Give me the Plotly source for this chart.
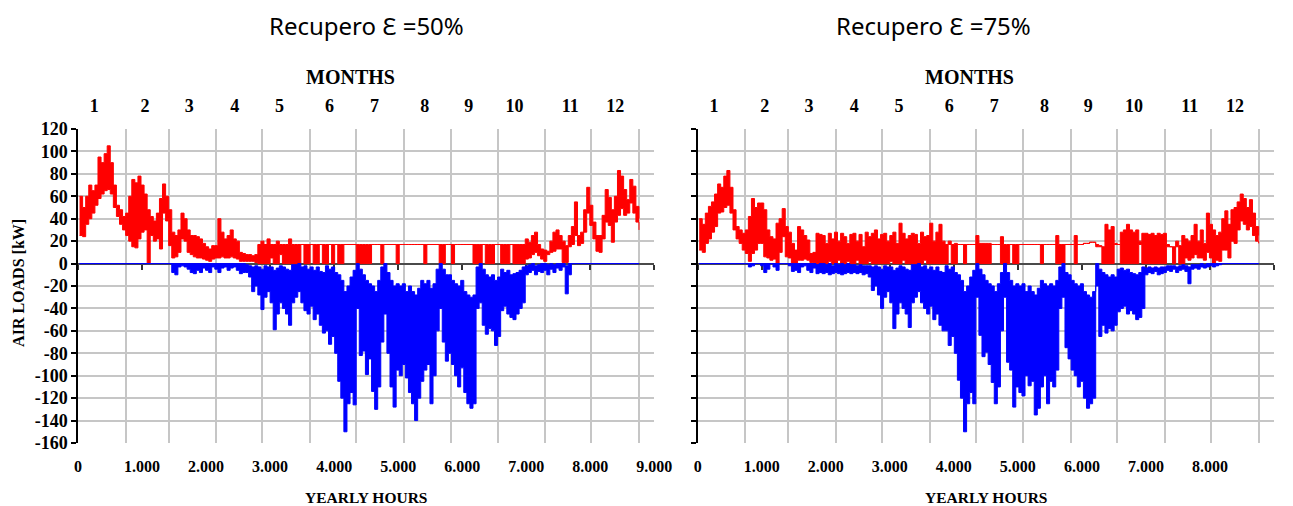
import numpy as np
import plotly.graph_objects as go

# ---------------- data ----------------
CHUNK_H = 48  # each value = envelope of one 48-hour block
MONTH_HOURS = [744, 672, 744, 720, 744, 720, 744, 744, 720, 744, 720, 744]
MONTH_LABELS = [str(i) for i in range(1, 13)]
MONTH_LABEL_POS = [255, 1046, 1738, 2446, 3145, 3928, 4631, 5415, 6100, 6815, 7685, 8390]
X_TICKS = [0, 1000, 2000, 3000, 4000, 5000, 6000, 7000, 8000, 9000]
X_TICK_TEXT_L = ["0", "1.000", "2.000", "3.000", "4.000", "5.000", "6.000", "7.000", "8.000", "9.000"]
X_TICKS_R = [0, 1000, 2000, 3000, 4000, 5000, 6000, 7000, 8000]
X_TICK_TEXT_R = ["0", "1.000", "2.000", "3.000", "4.000", "5.000", "6.000", "7.000", "8.000"]
Y_TICKS = [120, 100, 80, 60, 40, 20, 0, -20, -40, -60, -80, -100, -120, -140, -160]
Y_TICK_TEXT = [str(v) for v in Y_TICKS]

# Left panel: Recupero 50%
L_RED_HI = [60, 50, 60, 70, 65, 70, 95, 90, 98, 105,
            90, 70, 52, 48, 42, 45, 60, 75, 72, 78,
            70, 62, 48, 42, 38, 45, 58, 71, 60, 48,
            28, 25, 30, 45, 40, 30, 25, 25, 24, 22,
            18, 15, 13, 16, 16, 40, 28, 22, 25, 30,
            22, 20, 10, 9, 8, 8, 7, 8, 17, 20,
            17, 22, 17, 17, 20, 17, 17, 17, 22, 17,
            17, 17, 17, 17, 17, 17, 17, 17, 17, 17,
            17, 17, 17, 17, 17, 17, 17, 17, 17, 17,
            17, 17, 17, 17, 17, 17, 17, 17, 17, 17,
            17, 17, 17, 17, 17, 17, 17, 17, 17, 17,
            17, 17, 17, 17, 17, 17, 17, 17, 17, 17,
            17, 17, 17, 17, 17, 17, 17, 17, 17, 17,
            17, 17, 17, 17, 17, 17, 17, 17, 17, 17,
            17, 17, 17, 17, 17, 22, 19, 25, 28, 17,
            13, 12, 11, 20, 28, 30, 25, 20, 16, 25,
            33, 55, 25, 28, 48, 68, 52, 37, 25, 25,
            43, 66, 59, 48, 60, 83, 78, 66, 57, 75,
            69, 51, 40]
L_RED_LO = [25, 24, 35, 40, 45, 52, 58, 62, 65, 66,
            62, 50, 42, 35, 30, 25, 20, 15, 14, 22,
            28, 30, 0, 25, 20, 22, 13, 45, 38, 16,
            5, 6, 10, 22, 20, 10, 8, 6, 5, 5,
            4, 3, 2, 4, 5, 5, 6, 5, 5, 6,
            5, 4, 2, 2, 2, 2, 2, 1, 0, 0,
            0, 0, 5, 0, 0, 8, 0, 0, 0, 0,
            0, 0, 17, 0, 0, 17, 0, 0, 17, 0,
            0, 17, 0, 17, 0, 0, 17, 17, 17, 17,
            0, 0, 0, 0, 0, 17, 17, 17, 0, 17,
            17, 17, 17, 0, 17, 17, 17, 17, 17, 17,
            17, 17, 0, 17, 17, 17, 17, 0, 0, 17,
            17, 0, 17, 17, 17, 17, 17, 17, 0, 0,
            0, 17, 0, 0, 0, 17, 17, 0, 0, 0,
            17, 0, 0, 0, 0, 4, 5, 8, 10, 7,
            4, 2, 8, 10, 11, 13, 13, 1, 1, 15,
            17, 25, 16, 18, 28, 45, 34, 22, 11, 10,
            22, 37, 34, 19, 37, 43, 49, 43, 45, 54,
            45, 37, 30]
L_BLUE_HI = [0, 0, 0, 0, 0, 0, 0, 0, 0, 0,
             0, 0, 0, 0, 0, 0, 0, 0, 0, 0,
             0, 0, 0, 0, 0, 0, 0, 0, 0, 0,
             0, 0, 0, 0, 0, 0, 0, 0, 0, 0,
             0, 0, 0, 0, 0, 0, 0, 0, 0, 0,
             0, 0, 0, 0, -1, -2, -3, -2, -3, -5,
             -2, -3, -3, -6, -4, -2, -3, -5, -6, -1,
             -1, 0, -3, -2, -5, -3, -6, -3, -7, -8,
             -2, -5, -3, -8, -10, -15, -25, -20, -12, -6,
             0, -5, -10, -15, -18, -20, -25, -15, -3, 0,
             -8, -15, -20, -18, -20, -18, -25, -20, -25, -28,
             -22, -15, -18, -15, -22, -18, -5, 0, -5, -10,
             -10, -15, -18, -20, -15, -25, -28, -30, -28, -3,
             0, -5, -10, -12, -10, -15, -12, -5, -8, -6,
             -10, -9, -8, -6, -3, -2, -1, 0, -2, -1,
             0, 0, -1, 0, -1, 0, 0, 0, -2, 0,
             0, 0, 0, 0, 0, 0, 0, 0, 0, 0,
             0, 0, 0, 0, 0, 0, 0, 0, 0, 0,
             0, 0, 0]
L_BLUE_LO = [0, 0, 0, 0, 0, 0, 0, 0, 0, 0,
             0, 0, 0, 0, 0, 0, 0, 0, 0, 0,
             0, 0, 0, 0, 0, 0, 0, 0, 0, 0,
             -8, -10, -3, -2, -3, -5, -8, -9, -6, -8,
             -4, -6, -8, -3, -5, -8, -4, -3, -6, -4,
             -3, -6, -9, -8, -8, -12, -25, -20, -28, -41,
             -30, -25, -35, -59, -45, -35, -40, -45, -55, -35,
             -30, -25, -35, -42, -45, -38, -50, -45, -55, -62,
             -60, -72, -65, -80, -105, -120, -150, -125, -115, -126,
             -40, -82, -78, -99, -85, -114, -130, -110, -70, -45,
             -80, -110, -128, -95, -100, -90, -102, -115, -125, -140,
             -120, -105, -95, -90, -125, -100, -60, -40, -70, -87,
             -80, -90, -100, -110, -93, -115, -125, -129, -125, -40,
             -35, -55, -63, -58, -60, -73, -65, -42, -38, -45,
             -48, -50, -45, -40, -35, -10, -8, -6, -10, -7,
             -8, -6, -10, -5, -8, -4, -6, -3, -27, -10,
             0, 0, 0, 0, 0, 0, 0, 0, 0, 0,
             0, 0, 0, 0, 0, 0, 0, 0, 0, 0,
             0, 0, 0]

# Right panel: Recupero 75%
R_RED_HI = [40, 35, 45, 51, 55, 62, 71, 68, 78, 83,
            68, 48, 33, 30, 27, 30, 42, 58, 50, 54,
            54, 48, 30, 24, 22, 36, 40, 49, 33, 28,
            18, 12, 33, 30, 25, 21, 9, 10, 27, 26,
            25, 18, 27, 22, 28, 20, 27, 24, 18, 26,
            27, 20, 26, 15, 28, 24, 27, 30, 22, 26,
            27, 20, 25, 28, 18, 36, 27, 22, 25, 27,
            26, 18, 28, 24, 25, 36, 20, 28, 35, 20,
            17, 20, 17, 18, 17, 17, 17, 17, 17, 17,
            25, 18, 18, 18, 18, 17, 17, 17, 24, 17,
            17, 17, 17, 17, 17, 17, 17, 17, 17, 17,
            17, 17, 17, 17, 17, 17, 25, 17, 17, 17,
            17, 17, 25, 17, 17, 18, 18, 19, 19, 17,
            16, 15, 35, 30, 33, 18, 17, 28, 30, 35,
            30, 28, 30, 20, 27, 27, 26, 27, 25, 27,
            26, 27, 17, 15, 15, 20, 16, 25, 22, 20,
            25, 35, 20, 30, 18, 45, 35, 30, 25, 28,
            40, 47, 35, 48, 50, 55, 62, 58, 50, 57,
            45, 33, 25]
R_RED_LO = [12, 10, 18, 22, 28, 33, 45, 46, 50, 52,
            45, 30, 22, 18, 12, 9, 2, 9, 12, 18,
            18, 6, 5, 3, 4, 0, 10, 24, 6, 5,
            0, 0, 3, 3, 4, 3, 1, 1, 0, 0,
            0, 0, 2, 0, 0, 3, 0, 0, 2, 0,
            0, 3, 0, 0, 0, 2, 0, 0, 0, 0,
            0, 0, 2, 0, 0, 0, 3, 0, 0, 0,
            0, 0, 0, 3, 0, 0, 0, 0, 0, 0,
            0, 17, 0, 0, 17, 17, 0, 17, 17, 17,
            0, 0, 0, 0, 0, 17, 17, 17, 0, 0,
            0, 17, 0, 0, 17, 17, 17, 17, 17, 17,
            17, 0, 17, 17, 17, 17, 0, 0, 0, 17,
            17, 17, 0, 17, 17, 18, 18, 19, 19, 15,
            15, 0, 0, 0, 0, 17, 17, 0, 0, 0,
            0, 0, 0, 17, 0, 0, 0, 0, 0, 0,
            0, 0, 15, 15, 0, 15, 0, 0, 5, 3,
            5, 8, 5, 5, 3, 10, 5, 0, 3, 2,
            12, 12, 5, 20, 18, 30, 38, 35, 30, 33,
            25, 20, 18]
R_BLUE_HI = [0, 0, 0, 0, 0, 0, 0, 0, 0, 0,
             0, 0, 0, 0, 0, 0, 0, 0, 0, 0,
             0, 0, 0, 0, 0, 0, 0, 0, 0, 0,
             0, 0, 0, 0, 0, 0, 0, 0, -1, 0,
             0, -1, 0, -2, 0, -1, 0, -1, 0, -1,
             -1, -2, -1, -2, -2, -2, -3, -2, -3, -5,
             -2, -3, -3, -6, -4, -2, -3, -5, -6, -1,
             -1, 0, -3, -2, -5, -3, -6, -3, -7, -8,
             -2, -5, -3, -8, -10, -15, -25, -20, -12, -6,
             0, -5, -10, -15, -18, -20, -25, -18, -8, 0,
             -8, -15, -20, -18, -20, -18, -25, -20, -25, -28,
             -22, -15, -18, -20, -18, -20, -15, -3, 0, -8,
             -10, -15, -18, -20, -18, -25, -28, -30, -25, 0,
             -5, -8, -10, -12, -10, -12, -5, -4, -6, -5,
             -8, -9, -10, -8, -3, -4, -3, -4, -3, -4,
             -3, -3, -2, -2, -2, -3, -2, -1, -2, -3,
             -1, -1, -1, 0, -1, 0, 0, 0, 0, 0,
             0, 0, 0, 0, 0, 0, 0, 0, 0, 0,
             0, 0, 0]
R_BLUE_LO = [0, 0, 0, 0, 0, 0, 0, 0, 0, 0,
             0, 0, 0, 0, 0, 0, -3, -2, 0, 0,
             -2, -8, -5, 0, -3, -6, 0, 0, 0, -2,
             -7, -6, -8, -3, -2, -6, -8, -4, -9, -8,
             -9, -8, -10, -9, -8, -9, -10, -9, -8, -9,
             -8, -9, -8, -10, -9, -12, -24, -20, -28, -40,
             -30, -25, -35, -58, -45, -35, -40, -45, -57, -35,
             -30, -25, -35, -40, -45, -38, -50, -45, -55, -60,
             -60, -73, -65, -80, -104, -120, -150, -125, -115, -125,
             -30, -64, -83, -79, -90, -106, -125, -110, -60, -30,
             -88, -95, -128, -110, -115, -118, -100, -109, -105, -135,
             -129, -110, -100, -125, -105, -110, -95, -40, -30, -75,
             -85, -95, -100, -110, -105, -120, -129, -125, -120, -20,
             -65, -55, -62, -58, -60, -55, -43, -40, -38, -45,
             -42, -45, -50, -48, -40, -10, -8, -9, -7, -10,
             -9, -8, -6, -7, -5, -8, -6, -5, -7, -18,
             -5, -4, -5, -3, -4, -3, -2, -3, -2, -1,
             0, 0, 0, 0, 0, 0, 0, 0, 0, 0,
             0, 0, 0]

TITLES = ["Recupero \u0190 =50%", "Recupero \u0190 =75%"]

# ---------------- figure ----------------
RED = "#ff0000"
BLUE = "#0000ff"
GRID = "#c6c6c6"
SERIF = "Liberation Serif"

# the page body adds an 8px offset, so the figure is 8px smaller and margins 8px less
W, H = 1285, 498
ML, MR, MT, MB = 70, 1, 121, 63

month_bounds = list(np.concatenate([[0], np.cumsum(MONTH_HOURS)]))

fig = go.Figure()


def band(lo, hi, color, xa, ya):
    n = min(len(lo), len(hi))
    x = CHUNK_H * np.arange(n) + CHUNK_H / 2
    fig.add_trace(go.Scatter(x=x, y=lo[:n], xaxis=xa, yaxis=ya, mode="lines",
                             line=dict(color=color, width=1, shape="hv"), hoverinfo="skip"))
    fig.add_trace(go.Scatter(x=x, y=hi[:n], xaxis=xa, yaxis=ya, mode="lines",
                             line=dict(color=color, width=1, shape="hv"), fill="tonexty",
                             fillcolor=color, hoverinfo="skip"))


band(L_RED_LO, L_RED_HI, RED, "x", "y")
band(L_BLUE_LO, L_BLUE_HI, BLUE, "x", "y")
band(R_RED_LO, R_RED_HI, RED, "x2", "y2")
band(R_BLUE_LO, R_BLUE_HI, BLUE, "x2", "y2")

# invisible traces so the overlay axes are drawn
for xa, ya, xs in [("x3", "y", MONTH_LABEL_POS), ("x4", "y2", MONTH_LABEL_POS),
                   ("x5", "y", X_TICKS), ("x6", "y2", X_TICKS)]:
    fig.add_trace(go.Scatter(x=xs, y=[None] * len(xs), xaxis=xa, yaxis=ya,
                             mode="lines", hoverinfo="skip"))

xtick_font = dict(family=SERIF, size=16, color="black", weight="bold")
ytick_font = dict(family=SERIF, size=18, color="black", weight="bold")
month_font = dict(family=SERIF, size=18, color="black", weight="bold")

common_x = dict(range=[0, 9000], showgrid=False, zeroline=False, showline=False,
                ticks="", tickfont=xtick_font, ticklabelstandoff=12,
                minor=dict(tickmode="array", tickvals=month_bounds, showgrid=True,
                           gridcolor=GRID, gridwidth=1.5, ticks=""))
common_y = dict(range=[-160, 120], tickmode="array", tickvals=Y_TICKS, ticktext=Y_TICK_TEXT,
                showgrid=True, gridcolor=GRID, gridwidth=1.5,
                showline=True, linecolor="black", linewidth=1.5,
                ticks="outside", ticklen=5, tickwidth=1.5, tickcolor="black",
                zeroline=True, zerolinecolor="#4a4a4a", zerolinewidth=1.5,
                tickfont=ytick_font, domain=[0, 1])
top_x = dict(range=[0, 9000], side="top", tickmode="array", tickvals=MONTH_LABEL_POS,
             ticktext=MONTH_LABELS, showgrid=False, zeroline=False, showline=False,
             ticks="", tickfont=month_font, ticklabelstandoff=12)
ZERO_POS = 160 / 280
zero_x = dict(range=[0, 9000], anchor="free", position=ZERO_POS, tickmode="array",
              showgrid=False, zeroline=False, showline=False, ticks="outside",
              ticklen=5, tickwidth=1.5, tickcolor="#333333", showticklabels=False,
              layer="below traces")

fig.update_layout(
    width=W, height=H,
    margin=dict(l=ML, r=MR, t=MT, b=MB),
    plot_bgcolor="white", paper_bgcolor="white",
    showlegend=False,
    xaxis=dict(domain=[0, 0.4819], anchor="y", tickmode="array", tickvals=X_TICKS,
               ticktext=X_TICK_TEXT_L, **common_x),
    xaxis2=dict(domain=[0.5181, 1.0], anchor="y2", tickmode="array", tickvals=X_TICKS_R,
                ticktext=X_TICK_TEXT_R, **common_x),
    yaxis=dict(anchor="x", **common_y),
    yaxis2=dict(anchor="x2", **common_y),
    xaxis3=dict(overlaying="x", anchor="y", **top_x),
    xaxis4=dict(overlaying="x2", anchor="y2", **top_x),
    xaxis5=dict(overlaying="x", tickvals=X_TICKS, **zero_x),
    xaxis6=dict(overlaying="x2", tickvals=X_TICKS, **zero_x),
)
fig.update_layout(yaxis2=dict(showticklabels=False))

PLOT_W = W - ML - MR
PLOT_H = H - MT - MB


def px_x(px):  # reference-picture pixel -> paper
    return (px - 8 - ML) / PLOT_W


def px_y(py):
    return (MT + PLOT_H - (py - 8)) / PLOT_H


ann_font = dict(family=SERIF, size=15.5, color="black", weight="bold")
title_font = dict(family="Noto Sans", size=24, color="black")
annotations = [
    dict(text=TITLES[0], x=px_x(371), y=px_y(25), font=title_font),
    dict(text=TITLES[1], x=px_x(946), y=px_y(25), font=title_font),
    dict(text="MONTHS", x=px_x(355), y=px_y(77), font=dict(family=SERIF, size=20, color="black", weight="bold")),
    dict(text="MONTHS", x=px_x(983), y=px_y(77), font=dict(family=SERIF, size=20, color="black", weight="bold")),
    dict(text="YEARLY HOURS", x=px_x(370.5), y=px_y(497), font=ann_font),
    dict(text="YEARLY HOURS", x=px_x(999.5), y=px_y(497), font=ann_font),
    dict(text="AIR LOADS [kW]", x=px_x(17), y=px_y(283), textangle=-90, font=dict(family=SERIF, size=16, color="black", weight="bold")),
]
for a in annotations:
    a.update(xref="paper", yref="paper", showarrow=False, xanchor="center", yanchor="middle")
fig.update_layout(annotations=annotations)

fig.write_html("out.html")
